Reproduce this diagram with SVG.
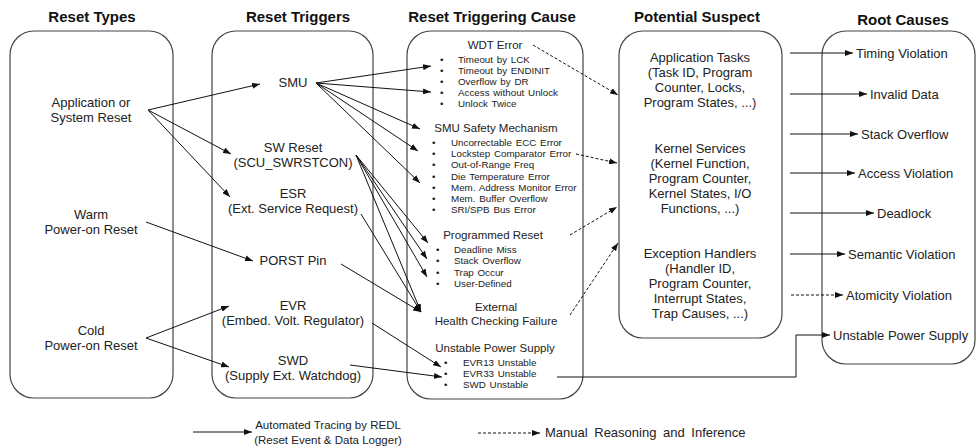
<svg xmlns="http://www.w3.org/2000/svg" width="976" height="448" viewBox="0 0 976 448">
  <defs>
    <marker id="arrow" markerWidth="8" markerHeight="6" refX="8" refY="3" orient="auto" markerUnits="userSpaceOnUse">
      <path d="M0,0 L8,3 L0,6 z" fill="#111"/>
    </marker>
    <style>
      text { font-family: "Liberation Sans", Arial, sans-serif; fill: #222; }
      .title { font-size: 15px; font-weight: bold; fill: #111; text-anchor: middle; }
      .lbl { font-size: 13px; text-anchor: middle; }
      .hdr { font-size: 11.5px; text-anchor: middle; }
      .item { font-size: 9.8px; word-spacing: 1px; }
      .root { font-size: 13px; }
      .leg { font-size: 11.5px; }
      .box { fill: #fff; stroke: #444; stroke-width: 1.2; }
      .conn line, .conn polyline { stroke: #111; stroke-width: 1; fill: none; marker-end: url(#arrow); }
      .conn .dash { stroke-dasharray: 3 2; }
    </style>
  </defs>

  <rect width="976" height="448" fill="#fff"/>

  <!-- column headings -->
  <text class="title" x="92" y="22">Reset Types</text>
  <text class="title" x="298" y="22">Reset Triggers</text>
  <text class="title" x="492" y="22">Reset Triggering Cause</text>
  <text class="title" x="697" y="22">Potential Suspect</text>
  <text class="title" x="903" y="25">Root Causes</text>

  <!-- reset types -->
  <g id="reset-types">
    <rect class="box" x="10" y="31" width="163" height="367" rx="24"/>
    <text class="lbl" x="91" y="107">Application or</text>
    <text class="lbl" x="91" y="122">System Reset</text>
    <text class="lbl" x="91" y="219">Warm</text>
    <text class="lbl" x="91" y="234">Power-on Reset</text>
    <text class="lbl" x="91" y="335">Cold</text>
    <text class="lbl" x="91" y="350">Power-on Reset</text>
  </g>

  <!-- reset triggers -->
  <g id="reset-triggers">
    <rect class="box" x="212" y="31" width="161" height="367" rx="24"/>
    <text class="lbl" x="293" y="87">SMU</text>
    <text class="lbl" x="293" y="152">SW Reset</text>
    <text class="lbl" x="293" y="167">(SCU_SWRSTCON)</text>
    <text class="lbl" x="293" y="198">ESR</text>
    <text class="lbl" x="293" y="213">(Ext. Service Request)</text>
    <text class="lbl" x="293" y="265">PORST Pin</text>
    <text class="lbl" x="293" y="310">EVR</text>
    <text class="lbl" x="293" y="325">(Embed. Volt. Regulator)</text>
    <text class="lbl" x="293" y="365">SWD</text>
    <text class="lbl" x="293" y="380">(Supply Ext. Watchdog)</text>
  </g>

  <!-- reset triggering cause -->
  <g id="triggering-cause">
    <rect class="box" x="407" y="31" width="176" height="368" rx="24"/>
    <text class="hdr" x="495" y="49">WDT Error</text>
    <g class="item">
      <text x="440" y="63">•</text><text x="458" y="63">Timeout by LCK</text>
      <text x="440" y="74">•</text><text x="458" y="74">Timeout by ENDINIT</text>
      <text x="440" y="85">•</text><text x="458" y="85">Overflow by DR</text>
      <text x="440" y="96">•</text><text x="458" y="96">Access without Unlock</text>
      <text x="440" y="107">•</text><text x="458" y="107">Unlock Twice</text>
    </g>
    <text class="hdr" x="496" y="132">SMU Safety Mechanism</text>
    <g class="item">
      <text x="432" y="146">•</text><text x="451" y="146">Uncorrectable ECC Error</text>
      <text x="432" y="157">•</text><text x="451" y="157">Lockstep Comparator Error</text>
      <text x="432" y="168">•</text><text x="451" y="168">Out-of-Range Freq</text>
      <text x="432" y="180">•</text><text x="451" y="180">Die Temperature Error</text>
      <text x="432" y="191">•</text><text x="451" y="191">Mem. Address Monitor Error</text>
      <text x="432" y="202">•</text><text x="451" y="202">Mem. Buffer Overflow</text>
      <text x="432" y="213">•</text><text x="451" y="213">SRI/SPB Bus Error</text>
    </g>
    <text class="hdr" x="493" y="239">Programmed Reset</text>
    <g class="item">
      <text x="436" y="253">•</text><text x="454" y="253">Deadline Miss</text>
      <text x="436" y="264">•</text><text x="454" y="264">Stack Overflow</text>
      <text x="436" y="276">•</text><text x="454" y="276">Trap Occur</text>
      <text x="436" y="287">•</text><text x="454" y="287">User-Defined</text>
    </g>
    <text class="hdr" x="496" y="311">External</text>
    <text class="hdr" x="496" y="325">Health Checking Failure</text>
    <text class="hdr" x="495" y="352">Unstable Power Supply</text>
    <g class="item">
      <text x="444" y="366">•</text><text x="463" y="366">EVR13 Unstable</text>
      <text x="444" y="377">•</text><text x="463" y="377">EVR33 Unstable</text>
      <text x="444" y="388">•</text><text x="463" y="388">SWD Unstable</text>
    </g>
  </g>

  <!-- potential suspect -->
  <g id="potential-suspect">
    <rect class="box" x="619" y="31" width="163" height="307" rx="24"/>
    <text class="lbl" x="700" y="62">Application Tasks</text>
    <text class="lbl" x="700" y="77">(Task ID, Program</text>
    <text class="lbl" x="700" y="92">Counter, Locks,</text>
    <text class="lbl" x="700" y="107">Program States, ...)</text>
    <text class="lbl" x="700" y="153">Kernel Services</text>
    <text class="lbl" x="700" y="168">(Kernel Function,</text>
    <text class="lbl" x="700" y="183">Program Counter,</text>
    <text class="lbl" x="700" y="198">Kernel States, I/O</text>
    <text class="lbl" x="700" y="213">Functions, ...)</text>
    <text class="lbl" x="700" y="258">Exception Handlers</text>
    <text class="lbl" x="700" y="273">(Handler ID,</text>
    <text class="lbl" x="700" y="288">Program Counter,</text>
    <text class="lbl" x="700" y="303">Interrupt States,</text>
    <text class="lbl" x="700" y="318">Trap Causes, ...)</text>
  </g>

  <!-- root causes -->
  <g id="root-causes">
    <rect class="box" x="822" y="31" width="153" height="333" rx="24"/>
    <text class="root" x="856" y="58">Timing Violation</text>
    <text class="root" x="870" y="99">Invalid Data</text>
    <text class="root" x="861" y="139">Stack Overflow</text>
    <text class="root" x="858" y="178">Access Violation</text>
    <text class="root" x="877" y="218">Deadlock</text>
    <text class="root" x="848" y="259">Semantic Violation</text>
    <text class="root" x="846" y="300">Atomicity Violation</text>
    <text class="root" x="833" y="340">Unstable Power Supply</text>
  </g>

  <!-- connectors -->
  <g id="connectors" class="conn">
    <!-- reset types to triggers -->
    <line x1="148" y1="110" x2="260" y2="84"/>
    <line x1="148" y1="110" x2="231" y2="154"/>
    <line x1="148" y1="110" x2="230" y2="197"/>
    <line x1="146" y1="222" x2="253" y2="261"/>
    <line x1="146" y1="338" x2="229" y2="306"/>
    <line x1="146" y1="338" x2="229" y2="367"/>
    <!-- triggers to causes -->
    <line x1="316" y1="83" x2="431" y2="66"/>
    <line x1="316" y1="83" x2="431" y2="92"/>
    <line x1="316" y1="83" x2="420" y2="129"/>
    <line x1="316" y1="83" x2="418" y2="151"/>
    <line x1="316" y1="83" x2="420" y2="183"/>
    <line x1="356" y1="155" x2="428" y2="243"/>
    <line x1="356" y1="155" x2="427" y2="259"/>
    <line x1="356" y1="155" x2="427" y2="277"/>
    <line x1="356" y1="155" x2="421" y2="312"/>
    <line x1="361" y1="214" x2="421" y2="312"/>
    <line x1="341" y1="264" x2="421" y2="312"/>
    <line x1="372" y1="323" x2="441" y2="367"/>
    <line x1="350" y1="365" x2="442" y2="377"/>
    <!-- causes to suspects (manual) -->
    <line class="dash" x1="533" y1="45" x2="618" y2="95"/>
    <line class="dash" x1="576" y1="154" x2="617" y2="163"/>
    <line class="dash" x1="570" y1="235" x2="617" y2="207"/>
    <line class="dash" x1="570" y1="315" x2="618" y2="243"/>
    <!-- suspects to root causes -->
    <line x1="790" y1="53" x2="853" y2="53"/>
    <line x1="790" y1="94" x2="867" y2="94"/>
    <line x1="790" y1="134" x2="858" y2="134"/>
    <line x1="790" y1="173" x2="855" y2="173"/>
    <line x1="790" y1="213" x2="874" y2="213"/>
    <line x1="790" y1="254" x2="845" y2="254"/>
    <line class="dash" x1="791" y1="295" x2="843" y2="295"/>
    <polyline points="557,377 796,377 796,335 830,335"/>
    <!-- legend arrows -->
    <line x1="193" y1="432" x2="252" y2="432"/>
    <line class="dash" x1="478" y1="433" x2="540" y2="433"/>
  </g>

  <!-- legend -->
  <g id="legend">
    <text class="leg" x="328" y="429" text-anchor="middle">Automated Tracing by REDL</text>
    <text class="leg" x="328" y="444" text-anchor="middle">(Reset Event &amp; Data Logger)</text>
    <text class="leg" x="545" y="437" style="font-size:13px; word-spacing:3px">Manual Reasoning and Inference</text>
  </g>
</svg>
